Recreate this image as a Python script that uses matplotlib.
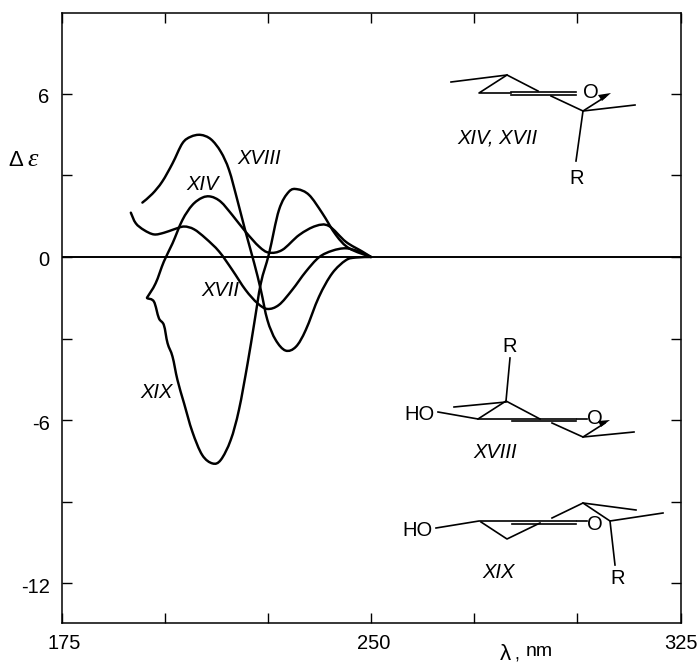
import numpy as np
import matplotlib
matplotlib.use("Agg")
import matplotlib.pyplot as plt
from matplotlib.patches import PathPatch, Polygon
from matplotlib.path import Path
from matplotlib.transforms import Affine2D, ScaledTranslation

W, H = 699, 664

x_xviii = [194.6, 197.0, 199.4, 201.9, 204.3, 206.3, 208.7, 211.2, 213.6, 215.6, 217.6, 219.6,
           221.7, 223.3, 224.9, 226.9, 229.3, 231.8, 234.2, 237.4, 240.6, 243.9, 246.3, 250.0]
y_xviii = [2.0, 2.32, 2.77, 3.44, 4.18, 4.42, 4.49, 4.33, 3.87, 3.2, 2.1, 0.93,
           -0.23, -1.21, -2.32, -3.05, -3.44, -3.3, -2.68, -1.46, -0.6, -0.12, -0.02, 0.0]

x_xiv = [195.7, 197.8, 199.8, 201.9, 204.3, 206.7, 209.1, 211.2, 213.6, 216.4, 219.6, 222.9,
         225.3, 228.5, 232.6, 236.6, 239.8, 243.9, 247.9, 250.0]
y_xiv = [-1.5, -0.97, -0.17, 0.5, 1.36, 1.91, 2.18, 2.22, 2.03, 1.54, 0.93, 0.38,
         0.16, 0.26, 0.81, 1.14, 1.14, 0.56, 0.2, 0.0]

x_xvii = [191.8, 193.0, 195.0, 197.4, 199.8, 202.3, 204.7, 207.1, 209.9, 213.2, 216.4, 219.6,
          222.5, 224.9, 227.7, 230.9, 234.2, 237.4, 240.6, 243.9, 247.1, 250.0]
y_xvii = [1.63, 1.24, 0.99, 0.83, 0.89, 1.02, 1.12, 1.02, 0.69, 0.2, -0.48, -1.21,
          -1.7, -1.91, -1.76, -1.21, -0.54, -0.01, 0.23, 0.32, 0.2, 0.0]

x_xix = [195.8, 197.4, 198.6, 199.8, 200.7, 201.9, 203.1, 204.7, 206.7, 209.1, 211.6, 213.6,
         216.0, 218.0, 220.1, 221.7, 223.3, 225.3, 227.7, 230.1, 232.2, 235.0, 238.2, 241.5, 244.7, 250.0]
y_xix = [-1.52, -1.64, -2.25, -2.5, -3.17, -3.66, -4.52, -5.38, -6.42, -7.28, -7.59, -7.46,
         -6.73, -5.62, -3.91, -2.44, -0.97, 0.13, 1.73, 2.40, 2.49, 2.28, 1.61, 0.81, 0.32, 0.0]

y_ticks = [6, 3, 0, -3, -6, -9, -12]
y_labels = {6: "6", 0: "0", -6: "-6", -12: "-12"}
x_ticks = [175, 200, 225, 250, 275, 300, 325]
x_labels = {175: "175", 250: "250", 325: "325"}

# ring sketches, in picture pixels
mol_top = [[(451, 82), (507, 75), (538, 91)], [(507, 75), (479, 93), (511, 93)],
           [(511, 92), (576, 92)], [(511, 95), (576, 95)],
           [(551, 96), (583, 111), (635, 105)], [(583, 111), (605, 97)], [(583, 111), (576, 161)]]
mol_mid = [[(438, 412), (478, 419), (506, 401), (540, 419)], [(454, 407), (506, 402)],
           [(478, 419), (576, 419)], [(512, 421), (576, 421)], [(577, 419), (587, 419)],
           [(552, 423), (583, 437), (634, 432)], [(583, 437), (605, 423)], [(506, 401), (510, 358)]]
mol_low = [[(436, 528), (479, 521), (576, 521)], [(512, 524), (576, 524)], [(577, 521), (587, 521)],
           [(481, 522), (507, 539), (540, 523)], [(552, 518), (583, 503), (610, 521), (663, 513)],
           [(583, 503), (636, 510)], [(610, 521), (615, 565)]]
mol_heads = [[(611, 93), (598, 95), (602, 101)], [(610, 420), (598, 421), (601, 427)]]
mol_text = [("O", 591, 93), ("R", 577, 178), ("R", 510, 346), ("HO", 420, 414), ("O", 595, 419),
            ("HO", 417, 531), ("O", 595, 524), ("R", 618, 579)]
curve_text = [("XVIII", 259, 158), ("XIV", 203, 184), ("XVII", 220, 290),
              ("XIX", 157, 393), ("XIV, XVII", 497, 138), ("XVIII", 495, 453),
              ("XIX", 499, 573)]


def smooth_path(xs, ys):
    # Catmull-Rom handles so the pen line stays round between the read points
    p = np.column_stack([xs, ys])
    q = np.vstack([p[0], p, p[-1]])
    verts = [p[0]]
    codes = [Path.MOVETO]
    for i in range(1, len(q) - 2):
        verts += [q[i] + (q[i + 1] - q[i - 1]) / 6, q[i + 1] - (q[i + 2] - q[i]) / 6, q[i + 1]]
        codes += [Path.CURVE4] * 3
    return Path(verts, codes)


fig = plt.figure(figsize=(W / 100, H / 100), dpi=100)
ax = fig.add_axes([61.5 / W, (H - 623) / H, (680.5 - 61.5) / W, (623 - 12.5) / H])
ax.set_xlim(175, 325)
ax.set_ylim((257 - 623) / 27.2, (257 - 12.5) / 27.2)

ax.axhline(0, color="black", lw=1.4)
for xs, ys in [(x_xviii, y_xviii), (x_xiv, y_xiv), (x_xvii, y_xvii), (x_xix, y_xix)]:
    ax.add_patch(PathPatch(smooth_path(xs, ys), fill=False, edgecolor="black", lw=1.75, capstyle="round"))

ax.set_xticks(x_ticks)
ax.set_xticklabels([x_labels.get(t, "") for t in x_ticks], family="Liberation Sans")
ax.set_yticks(y_ticks)
ax.set_yticklabels([y_labels.get(t, "") for t in y_ticks], family="Liberation Sans")
ax.tick_params(axis="both", direction="in", length=7.3, width=1.0, labelsize=14.5, top=True, right=True)
ax.tick_params(axis="x", pad=8)
ax.tick_params(axis="y", pad=8.5)
for lab in ax.get_yticklabels():
    lab.set_transform(lab.get_transform() + ScaledTranslation(0, -2 / 100, fig.dpi_scale_trans))
for lab in ax.get_xticklabels()[:-1]:
    lab.set_transform(lab.get_transform() + ScaledTranslation(2.5 / 100, 0, fig.dpi_scale_trans))
for s in ax.spines.values():
    s.set_linewidth(1.1)

# pixel coordinates of the picture, origin top left
px = Affine2D().scale(1, -1).translate(0, H)
for group in (mol_top, mol_mid, mol_low):
    for seg in group:
        pts = np.array(seg)
        fig.add_artist(plt.Line2D(pts[:, 0], pts[:, 1], color="black", lw=1.2, transform=px))
for tri in mol_heads:
    fig.add_artist(Polygon(tri, closed=True, color="black", lw=0, transform=px))
for s, x, y in mol_text:
    fig.text(x, y, s, transform=px, fontsize=14.5, ha="center", va="center", family="Liberation Sans")
for s, x, y in curve_text:
    fig.text(x, y, s, transform=px, fontsize=14.5, ha="center", va="center", style="italic", family="Liberation Sans")
fig.text(16, 160, "Δ", transform=px, fontsize=16, ha="center", va="center", family="Liberation Sans")
fig.text(33, 160, "ε", transform=px, fontsize=19, ha="center", va="center", style="italic", family="Liberation Serif")
fig.text(505, 654, "λ", transform=px, fontsize=16, ha="center", va="center", family="Liberation Sans")
fig.text(517, 655, ",", transform=px, fontsize=13, ha="center", va="center", family="Liberation Sans")
fig.text(539, 652, "nm", transform=px, fontsize=14, ha="center", va="center", family="Liberation Sans")

fig.savefig("out.png", dpi=100)
